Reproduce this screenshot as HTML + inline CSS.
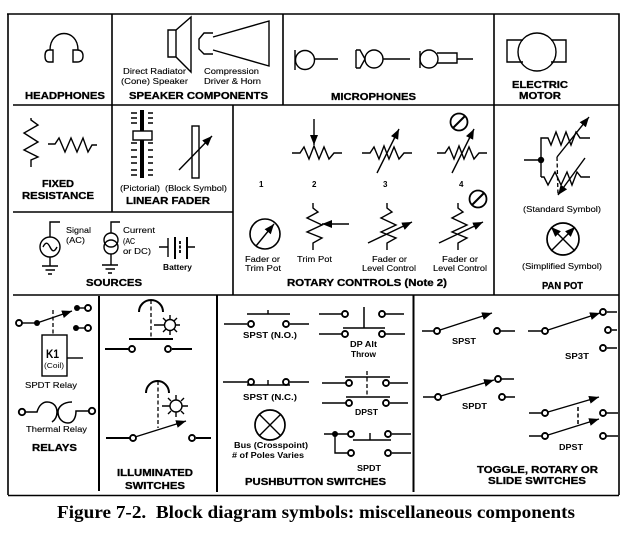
<!DOCTYPE html>
<html>
<head>
<meta charset="utf-8">
<style>
html,body{margin:0;padding:0;background:#fff;width:630px;height:534px;overflow:hidden}
svg{display:block}
.l{fill:none;stroke:#000;stroke-width:1.4}
.f{stroke:#000;stroke-width:2;fill:none}
.o{fill:#fff;stroke:#000;stroke-width:1.9}
.d{fill:#000}
.a{fill:none;stroke:#000;stroke-width:1.4;marker-end:url(#ah)}
.h{fill:none;stroke:#000;stroke-width:1.3;stroke-dasharray:4 2.5}
text{font-family:"Liberation Sans",Arial,Helvetica,sans-serif;fill:#000}
.b{font-weight:bold;font-size:10px;stroke:#000;stroke-width:.3}
.s{font-size:8.5px;stroke:#000;stroke-width:.12}
.t{font-size:8px;font-weight:bold}
.c{font-family:"Liberation Serif","Times New Roman",Times,serif;font-weight:bold;font-size:18px}
</style>
</head>
<body>
<svg width="630" height="534" viewBox="0 0 630 534" xmlns="http://www.w3.org/2000/svg">
<defs>
<marker id="ah" markerUnits="userSpaceOnUse" markerWidth="12" markerHeight="9" refX="10" refY="4" orient="auto"><path d="M0 0L10 4L0 8Z" fill="#000"/></marker>
</defs>

<!-- frame -->
<g stroke="#000" stroke-width="1.6" fill="none">
<path d="M7 14H619V495M8 14V495M8 495.500H619" />
<path d="M13 105H619M13 212H233M13 295H619"/>
<path d="M112 14V212M283 14V105M494 14V295M233 105V295"/>
<path d="M99 296V491M217 295V492M413.500 295V492" stroke-width="2"/>
</g>

<!-- headphones -->
<path class="l" d="M50 50C50 28 78 28 78 50"/>
<path class="l" d="M53 50H49Q45 50 45 56Q45 62 49 62H53ZM73 50H77Q83 50 83 56Q83 62 77 62H73Z" style="fill:#fff"/>
<text class="b" x="25" y="99" textLength="80" lengthAdjust="spacingAndGlyphs">HEADPHONES</text>

<!-- speakers -->
<path class="l" d="M168 30H176L191 17V72L176 57H168ZM176 30V57"/>
<path class="l" d="M213 37L269 21V66L213 50M213 33H204L199 39V49L204 54H213"/>
<text class="s" x="123" y="74" textLength="63" lengthAdjust="spacingAndGlyphs">Direct Radiator</text>
<text class="s" x="121" y="84" textLength="67" lengthAdjust="spacingAndGlyphs">(Cone) Speaker</text>
<text class="s" x="204" y="74" textLength="55" lengthAdjust="spacingAndGlyphs">Compression</text>
<text class="s" x="204" y="84" textLength="57" lengthAdjust="spacingAndGlyphs">Driver &amp; Horn</text>
<text class="b" x="129" y="99" textLength="139" lengthAdjust="spacingAndGlyphs">SPEAKER COMPONENTS</text>

<!-- microphones -->
<path class="l" d="M295 50V70"/><circle class="l" cx="305" cy="60" r="9.5"/><path class="l" d="M315 59H338"/>
<path class="l" d="M356 50V68M356 50H360L365 59L360 68H356"/><circle class="l" cx="374" cy="59" r="9"/><path class="l" d="M383 59H410"/>
<path class="l" d="M420 51V68"/><circle class="l" cx="429" cy="59" r="9"/><path class="l" d="M437 53H457V63H437M457 59H473"/>
<text class="b" x="331" y="100" textLength="85" lengthAdjust="spacingAndGlyphs">MICROPHONES</text>

<!-- motor -->
<path class="l" d="M523 40H507V62H523M551 40H566V62H551"/>
<circle class="l" cx="537" cy="52" r="19"/>
<text class="b" x="512" y="88" textLength="56" lengthAdjust="spacingAndGlyphs">ELECTRIC</text>
<text class="b" x="519" y="99" textLength="42" lengthAdjust="spacingAndGlyphs">MOTOR</text>

<!-- fixed resistance -->
<path class="l" d="M31 118V120L38 125L24 133L38 142L24 150L38 157L31 160V167"/>
<path class="l" d="M48 144H55L59 138L65 152L71 138L77 152L83 138L88 152L92 145H97"/>
<text class="b" x="42" y="187" textLength="32" lengthAdjust="spacingAndGlyphs">FIXED</text>
<text class="b" x="22" y="199" textLength="72" lengthAdjust="spacingAndGlyphs">RESISTANCE</text>

<!-- linear fader -->
<path d="M142 110V178" stroke="#000" stroke-width="4" fill="none"/>
<rect class="l" x="133" y="131" width="19" height="9" style="fill:#fff"/>
<path class="l" d="M131 113H137M148 113H153M131 118H137M148 118H153M131 123H137M148 123H153M131 143H137M148 143H153M131 150H137M148 150H153M131 157H137M148 157H153M131 163H137M148 163H153M131 170H137M148 170H153M131 175H137M148 175H153"/>
<rect class="l" x="192" y="126" width="7" height="52"/>
<path class="a" d="M179 170L212 136"/>
<text class="s" x="120" y="191" textLength="40" lengthAdjust="spacingAndGlyphs">(Pictorial)</text>
<text class="s" x="165" y="191" textLength="62" lengthAdjust="spacingAndGlyphs">(Block Symbol)</text>
<text class="b" x="126" y="204" textLength="84" lengthAdjust="spacingAndGlyphs">LINEAR FADER</text>

<!-- sources -->
<path class="l" d="M60 222H50V237M50 257V266M42 266H58M45.5 270H55M48 274H52"/>
<circle class="l" cx="50" cy="247" r="10"/>
<path class="l" d="M43 247C46 241 48 243 50 247C52 251 54 253 57 247"/>
<text class="s" x="66" y="233" textLength="25" lengthAdjust="spacingAndGlyphs">Signal</text>
<text class="s" x="66" y="243" textLength="19" lengthAdjust="spacingAndGlyphs">(AC)</text>
<path class="l" d="M120 222H111V233M111 254V265M102 265H118M105.5 269H115M108 273H112"/>
<circle class="l" cx="111" cy="240" r="7"/><circle class="l" cx="111" cy="247" r="7"/>
<text class="s" x="123" y="233" textLength="32" lengthAdjust="spacingAndGlyphs">Current</text>
<text class="s" x="123" y="244" textLength="12" lengthAdjust="spacingAndGlyphs">(AC</text>
<text class="s" x="123" y="254" textLength="28" lengthAdjust="spacingAndGlyphs">or DC)</text>
<path class="l" d="M159 247H168M168 238V257M187 247H195"/>
<path class="f" d="M175 237V259M187 237V259"/>
<path class="h" style="stroke-width:1.8;stroke-dasharray:3 1.5" d="M180 241V253"/>
<text class="t" x="163" y="270" textLength="29" lengthAdjust="spacingAndGlyphs">Battery</text>
<text class="b" x="86" y="286" textLength="56" lengthAdjust="spacingAndGlyphs">SOURCES</text>

<!-- rotary top row -->
<path class="a" d="M314 119V145"/>
<path class="l" d="M292 153H300L304 147L309 159L314 146L319 159L324 147L329 159L334 153H342"/>
<path class="l" d="M362 153H370L374 147L379 159L384 146L389 159L394 147L399 159L404 153H412"/>
<path class="a" d="M377 173L399 129"/>
<path class="l" d="M437 153H445L449 147L454 159L459 146L464 159L469 147L474 159L479 153H487"/>
<path class="a" d="M452 173L474 129"/>
<circle class="l" cx="459" cy="122" r="8.5" style="stroke-width:1.8"/>
<path class="f" d="M453 128L465 116"/>
<text class="t" x="259" y="187">1</text><text class="t" x="312" y="187">2</text><text class="t" x="383" y="187">3</text><text class="t" x="459" y="187">4</text>

<!-- rotary bottom row -->
<circle class="l" cx="265" cy="234" r="15" style="stroke-width:1.6"/>
<path class="a" d="M256 246L274 224"/>
<text class="s" x="245" y="262" textLength="35" lengthAdjust="spacingAndGlyphs">Fader or</text>
<text class="s" x="245" y="271" textLength="36" lengthAdjust="spacingAndGlyphs">Trim Pot</text>
<path class="l" d="M313 203V208L318 212L307 218L322 225L307 232L322 238L313 243V250"/>
<path class="a" d="M349 224H322"/>
<text class="s" x="297" y="262" textLength="35" lengthAdjust="spacingAndGlyphs">Trim Pot</text>
<path class="l" d="M387 203V208L392 212L381 218L396 225L381 232L396 238L387 243V250"/>
<path class="a" d="M368 243L412 222"/>
<text class="s" x="372" y="262" textLength="35" lengthAdjust="spacingAndGlyphs">Fader or</text>
<text class="s" x="362" y="271" textLength="54" lengthAdjust="spacingAndGlyphs">Level Control</text>
<path class="l" d="M458 203V208L463 212L452 218L467 225L452 232L467 238L458 243V250"/>
<path class="a" d="M439 243L483 222"/>
<circle class="l" cx="478" cy="199" r="8.5" style="stroke-width:1.8"/>
<path class="f" d="M472 205L484 193"/>
<text class="s" x="442" y="262" textLength="36" lengthAdjust="spacingAndGlyphs">Fader or</text>
<text class="s" x="433" y="271" textLength="54" lengthAdjust="spacingAndGlyphs">Level Control</text>
<text class="b" x="287" y="286" textLength="160" lengthAdjust="spacingAndGlyphs">ROTARY CONTROLS (Note 2)</text>

<!-- pan pot -->
<path class="l" d="M524 160H541M541 177V138H548L551 145L556 132L561 145L566 132L571 145L576 132L580 138H590"/>
<path class="l" d="M541 177H544L548 185L555 172L561 185L567 172L572 185L577 172L581 177H590"/>
<circle class="d" cx="541" cy="160" r="3.2"/>
<path class="a" d="M557 157L589 117"/>
<path class="a" d="M585 158L558 195"/>
<path class="h" d="M557 157L558 195"/>
<text class="s" x="523" y="212" textLength="78" lengthAdjust="spacingAndGlyphs">(Standard Symbol)</text>
<circle class="l" cx="563" cy="239" r="16" style="stroke-width:1.7"/>
<path class="a" d="M551 251L575 227"/>
<path class="a" d="M575 251L551 227"/>
<text class="s" x="522" y="269" textLength="80" lengthAdjust="spacingAndGlyphs">(Simplified Symbol)</text>
<text class="b" x="542" y="289" textLength="41" lengthAdjust="spacingAndGlyphs">PAN POT</text>

<!-- relays -->
<path class="l" d="M22 323H37"/>
<path class="a" d="M37 323L72 311"/>
<circle class="o" cx="19" cy="323" r="3"/><circle class="d" cx="37" cy="323" r="3"/>
<circle class="d" cx="77" cy="308" r="3"/><path class="l" d="M77 308H85"/><circle class="o" cx="88" cy="308" r="3"/>
<circle class="d" cx="76" cy="328" r="3"/><path class="l" d="M76 328H85"/><circle class="o" cx="88" cy="328" r="3"/>
<path class="h" d="M53 310V335"/>
<rect class="l" x="42" y="335" width="25" height="41"/>
<path class="l" d="M67 358H83"/>
<text x="46" y="358" style="font-size:12px;font-weight:bold" textLength="13" lengthAdjust="spacingAndGlyphs">K1</text>
<text x="44" y="368" style="font-size:7px" textLength="20" lengthAdjust="spacingAndGlyphs">(Coil)</text>
<text class="s" x="25" y="388" textLength="52" lengthAdjust="spacingAndGlyphs">SPDT Relay</text>
<path class="f" style="stroke-width:1.5" d="M26 412H37C39 405 43 402 47 402C54 402 57 407 57 412C57 417 55 420 52 422"/>
<path class="f" style="stroke-width:1.5" d="M72 402C63 402 58 407 58 412C58 419 63 423 68 423C73 423 76 418 76 411H88"/>
<circle class="o" cx="22" cy="412" r="3.2"/><circle class="o" cx="92" cy="411" r="3.2"/>
<text class="s" x="26" y="432" textLength="61" lengthAdjust="spacingAndGlyphs">Thermal Relay</text>
<text class="b" x="32" y="451" textLength="45" lengthAdjust="spacingAndGlyphs">RELAYS</text>

<!-- illuminated -->
<path class="f" d="M139 312A12 12 0 0 1 163 312"/>
<path class="h" d="M151 300V338"/>
<circle class="l" cx="170" cy="325" r="5.5"/>
<path class="l" d="M154 325H164M176 325H180M170 315V319M170 331V335M163 318L166 321M174 329L177 332M177 318L174 321M163 332L166 329"/>
<path class="f" d="M129 339H173M105 349H129M172 349H192"/>
<circle class="o" cx="132" cy="349" r="3"/><circle class="o" cx="168" cy="349" r="3"/>
<path class="f" d="M146 393A11.500 12 0 0 1 169 393"/>
<path class="h" d="M158 381V428"/>
<circle class="l" cx="176" cy="406" r="6"/>
<path class="l" d="M162 406H170M182 406H188M176 395V400M176 412V417M168 398L171 401M181 411L184 414M184 398L181 401M168 414L171 411"/>
<path class="f" d="M106 438H130"/>
<path class="a" d="M135 437L186 421"/>
<circle class="o" cx="133" cy="438" r="3"/>
<circle class="o" cx="192" cy="438" r="3"/><path class="f" d="M196 438H211"/>
<text class="b" x="117" y="476" textLength="76" lengthAdjust="spacingAndGlyphs">ILLUMINATED</text>
<text class="b" x="125" y="489" textLength="60" lengthAdjust="spacingAndGlyphs">SWITCHES</text>

<!-- pushbutton -->
<path class="f" style="stroke-width:1.4" d="M247 314H290M268 310V314M224 324H247M290 324H309"/>
<circle class="o" cx="251" cy="324" r="3"/><circle class="o" cx="286" cy="324" r="3"/>
<text class="t" x="243" y="338" textLength="54" lengthAdjust="spacingAndGlyphs">SPST (N.O.)</text>

<path class="f" style="stroke-width:1.5" d="M319 314H342M385 314H404M364 307V328M343 328H385M319 334H342M385 334H405"/>
<circle class="o" cx="345" cy="314" r="3"/><circle class="o" cx="382" cy="314" r="3"/>
<circle class="o" cx="345" cy="334" r="3"/><circle class="o" cx="382" cy="334" r="3"/>
<text class="t" x="350" y="347" textLength="27" lengthAdjust="spacingAndGlyphs">DP Alt</text>
<text class="t" x="351" y="357" textLength="25" lengthAdjust="spacingAndGlyphs">Throw</text>

<path class="f" style="stroke-width:1.4" d="M223 382H247M247 385H290M268 380V385M290 382H309"/>
<circle class="o" cx="251" cy="382" r="3"/><circle class="o" cx="286" cy="382" r="3"/>
<text class="t" x="243" y="400" textLength="54" lengthAdjust="spacingAndGlyphs">SPST (N.C.)</text>

<path class="f" style="stroke-width:1.4" d="M345 377H390M322 383H346M390 383H408M346 397H390M322 403H346M390 403H408"/>
<path class="h" d="M367 371V397"/>
<circle class="o" cx="349" cy="383" r="3"/><circle class="o" cx="386" cy="383" r="3"/>
<circle class="o" cx="349" cy="403" r="3"/><circle class="o" cx="386" cy="403" r="3"/>
<text class="t" x="355" y="415" textLength="23" lengthAdjust="spacingAndGlyphs">DPST</text>

<circle class="l" cx="270" cy="425" r="15" style="stroke-width:1.7"/>
<path class="l" d="M259.500 414.500L280.500 435.500M280.500 414.500L259.500 435.500"/>
<text class="t" x="234" y="448" textLength="74" lengthAdjust="spacingAndGlyphs">Bus (Crosspoint)</text>
<text class="t" x="232" y="458" textLength="72" lengthAdjust="spacingAndGlyphs"># of Poles Varies</text>

<path class="f" style="stroke-width:1.4" d="M324 434H348M353 440H391M370 433V440M392 434H411M335 434V453H348M392 453H411"/>
<circle class="d" cx="335" cy="434" r="3"/>
<circle class="o" cx="351" cy="434" r="3"/><circle class="o" cx="388" cy="434" r="3"/>
<circle class="o" cx="351" cy="453" r="3"/><circle class="o" cx="388" cy="453" r="3"/>
<text class="t" x="357" y="471" textLength="24" lengthAdjust="spacingAndGlyphs">SPDT</text>
<text class="b" x="245" y="485" textLength="141" lengthAdjust="spacingAndGlyphs">PUSHBUTTON SWITCHES</text>

<!-- toggle -->
<path class="f" style="stroke-width:1.4" d="M422 331H434M500 331H515"/>
<path class="a" d="M440 330L492 313"/>
<circle class="o" cx="437" cy="331" r="3"/><circle class="o" cx="497" cy="331" r="3"/>
<text class="t" x="452" y="344" textLength="24" lengthAdjust="spacingAndGlyphs">SPST</text>

<path class="f" style="stroke-width:1.4" d="M528 331H542M607 312H617M612 330H617M607 348H617"/>
<path class="a" d="M548 330L600 313"/>
<circle class="o" cx="545" cy="331" r="3"/><circle class="o" cx="603" cy="312" r="3"/><circle class="o" cx="608" cy="330" r="3"/><circle class="o" cx="603" cy="348" r="3"/>
<text class="t" x="565" y="359" textLength="24" lengthAdjust="spacingAndGlyphs">SP3T</text>

<path class="f" style="stroke-width:1.4" d="M423 397H435M501 379H514M505 397H515"/>
<path class="a" d="M441 396L494 380"/>
<circle class="o" cx="438" cy="397" r="3"/><circle class="o" cx="498" cy="379" r="3"/><circle class="o" cx="502" cy="397" r="3"/>
<text class="t" x="462" y="409" textLength="25" lengthAdjust="spacingAndGlyphs">SPDT</text>

<path class="f" style="stroke-width:1.4" d="M529 413H542M606 413H618M529 436H542M606 436H618"/>
<path class="a" d="M548 412L599 397"/>
<path class="a" d="M548 435L599 419"/>
<path class="h" d="M578 407V425" style="stroke-width:1.5"/>
<circle class="o" cx="545" cy="413" r="3"/><circle class="o" cx="603" cy="413" r="3"/><circle class="o" cx="545" cy="436" r="3"/><circle class="o" cx="603" cy="436" r="3"/>
<text class="t" x="559" y="450" textLength="24" lengthAdjust="spacingAndGlyphs">DPST</text>
<text class="b" x="477" y="473" textLength="121" lengthAdjust="spacingAndGlyphs">TOGGLE, ROTARY OR</text>
<text class="b" x="488" y="484" textLength="98" lengthAdjust="spacingAndGlyphs">SLIDE SWITCHES</text>

<!-- caption -->
<text class="c" x="57" y="518" textLength="518" lengthAdjust="spacingAndGlyphs" xml:space="preserve">Figure 7-2.  Block diagram symbols: miscellaneous components</text>
</svg>
</body>
</html>
